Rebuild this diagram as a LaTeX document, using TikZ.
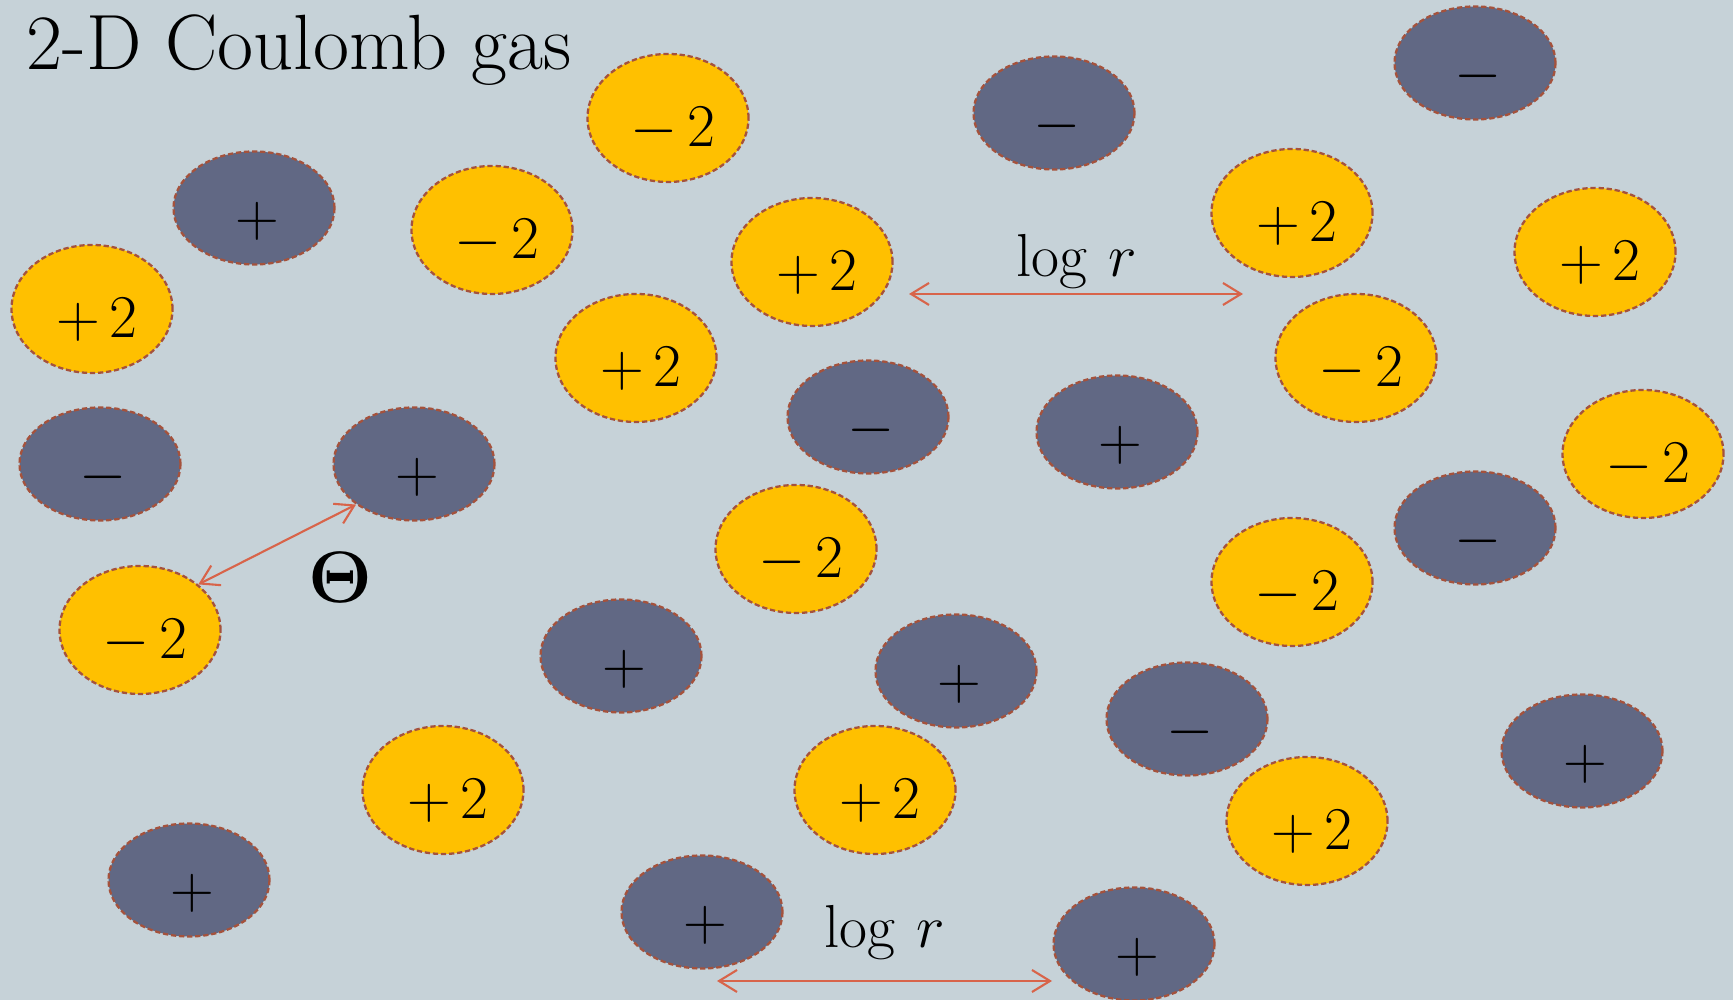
\documentclass[tikz,border=0pt]{standalone}
\usepackage{tikz}
\usetikzlibrary{arrows.meta,shapes.geometric}
\definecolor{slate}{HTML}{C6D2D8}
\definecolor{dusk}{HTML}{616884}
\definecolor{amber}{HTML}{FFC000}
\definecolor{rim}{HTML}{A5523C}
\definecolor{coral}{HTML}{D8644A}
\tikzset{
  charge/.style={ellipse,draw=rim,line width=0.65pt,dash pattern=on 1.5pt off 0.8pt,
    minimum width=1.61cm,inner sep=0pt,text height=0.6cm,text depth=0.02cm,
    font=\fontsize{18}{20}\selectfont},
  vortex/.style={charge,fill=amber,minimum height=1.28cm},
  spin/.style={charge,fill=dusk,minimum height=1.13cm},
  span/.style={coral,line width=0.6pt,
    {Straight Barb[length=1.8mm,width=2.2mm]}-{Straight Barb[length=1.8mm,width=2.2mm]}},
  logtext/.style={anchor=base,inner sep=0pt,font=\fontsize{19}{22}\selectfont}
}

\begin{document}
\begin{tikzpicture}[x=1cm,y=1cm]
  \fill[slate] (0,0) rectangle (17.33,10);
  \useasboundingbox (0,0) rectangle (17.33,10);
  \node[anchor=base west,inner sep=0pt,font=\fontsize{22.3}{25}\selectfont] (title) at (0.26,9.30) {2-D Coulomb gas};

  % charges +-2
  \foreach \x/\y/\s [count=\i] in {6.68/8.82/-,4.92/7.70/-,0.92/6.91/+,8.12/7.38/+,6.36/6.42/+,
      7.96/4.51/-,1.40/3.70/-,4.43/2.10/+,8.75/2.10/+,12.92/7.87/+,15.95/7.48/+,13.56/6.42/-,
      16.43/5.46/-,12.92/4.18/-,13.07/1.79/+}{
    \node[vortex] (y\i) at (\x,\y) {\hspace{0.1cm}$\s\mkern3mu 2$};
  }
  % charges +-1
  \foreach \x/\y/\s [count=\i] in {2.54/7.92/+,1.00/5.36/-,4.14/5.36/+,10.54/8.87/-,14.75/9.37/-,
      8.68/5.83/-,11.17/5.68/+,14.75/4.72/-,6.21/3.44/+,9.56/3.29/+,11.87/2.81/-,15.82/2.49/+,
      1.89/1.20/+,7.02/0.88/+,11.34/0.56/+}{
    \node[spin] (g\i) at (\x,\y) {\hspace{0.06cm}$\s$};
  }

  \coordinate (top a) at (9.09,7.06);
  \coordinate (top b) at (12.43,7.06);
  \draw[span] (top a) -- (top b);
  \node[logtext] (toplog) at (10.77,7.23) {$\log\,r$};

  \coordinate (bot a) at (7.17,0.19);
  \coordinate (bot b) at (10.52,0.19);
  \draw[span] (bot a) -- (bot b);
  \node[logtext] (botlog) at (8.85,0.52) {$\log\,r$};

  \draw[span] (g3.215) -- (y7.38);
  \node[inner sep=0pt,font=\fontsize{21}{24}\selectfont\boldmath] (theta) at (3.40,4.22) {$\Theta$};
\end{tikzpicture}
\end{document}
